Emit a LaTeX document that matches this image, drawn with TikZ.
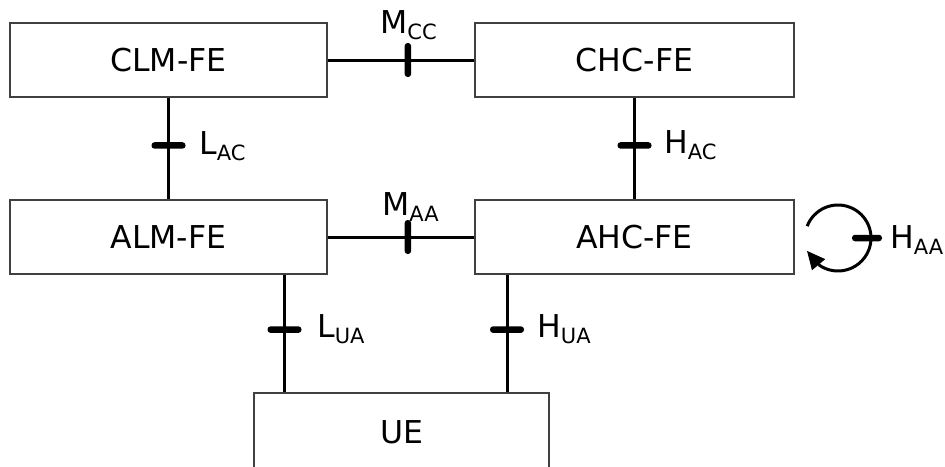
\documentclass[tikz,border=0pt]{standalone}
\usepackage{fontspec}
\setmainfont{DejaVu Sans}
\usetikzlibrary{arrows.meta}
\newcommand\lblsub[2]{#1\raisebox{-6pt}{\fontsize{21}{21}\selectfont #2}}
\tikzset{
  fe/.style={draw=black!75, line width=1.2pt, minimum height=74pt, inner sep=0pt, font=\fontsize{31.5}{31.5}\selectfont},
  conn/.style={line width=3pt, black},
  tickmark/.style={fill=black, draw=none, rounded corners=3pt, inner sep=0pt, minimum width=6.5pt, minimum height=34pt},
  lbl/.style={anchor=base west, inner sep=0pt, font=\fontsize{31.5}{31.5}\selectfont}
}
\begin{document}
\begin{tikzpicture}[x=1pt,y=-1pt]
\useasboundingbox (0,0) rectangle (945,466);
% boxes
\node[fe, minimum width=317pt] (clm) at (168.5,60) {CLM-FE};
\node[fe, minimum width=319pt] (chc) at (634.5,60) {CHC-FE};
\node[fe, minimum width=317pt] (alm) at (168.5,237) {ALM-FE};
\node[fe, minimum width=319pt] (ahc) at (634.5,237) {AHC-FE};
\node[fe, minimum width=295pt, minimum height=90pt] (ue) at (401.5,438) {\raisebox{11pt}{UE}};
% x positions of lower connectors
\coordinate (xl) at (284.5,0);
\coordinate (xh) at (507,0);
% connectors with tick marks
\draw[conn] (clm.east) -- node[tickmark, pos=0.547] (tmcc) {} (chc.west);
\draw[conn] (alm.east) -- node[tickmark, pos=0.547] (tmaa) {} (ahc.west);
\draw[conn] (clm.south) -- node[tickmark, rotate=90, pos=0.47] (tlac) {} (alm.north);
\draw[conn] (chc.south) -- node[tickmark, rotate=90, pos=0.47] (thac) {} (ahc.north);
\draw[conn] (alm.south -| xl) -- node[tickmark, rotate=90, pos=0.467] (tlua) {} (ue.north -| xl);
\draw[conn] (ahc.south -| xh) -- node[tickmark, rotate=90, pos=0.467] (thua) {} (ue.north -| xh);
% loop on AHC
\coordinate (loopc) at (838,238);
\draw[line width=3pt] ([shift={(159:33pt)}]loopc) arc[start angle=159, end angle=-126, radius=33pt] coordinate (arcend);
\draw[line width=1pt, -{Triangle[length=18pt,width=17pt]}] (arcend) -- ++(130:18pt) coordinate (arctip);
\node[tickmark, rotate=90, minimum height=30pt] (thaa) at (867,238) {};
% labels
\node[lbl] (lmcc) at (380,33) {\lblsub{M}{CC}};
\node[lbl] (llac) at (199,154) {\lblsub{L}{AC}};
\node[lbl] (lhac) at (664,153) {\lblsub{H}{AC}};
\node[lbl] (lmaa) at (382,215) {\lblsub{M}{AA}};
\node[lbl] (llua) at (317,337) {\lblsub{L}{UA}};
\node[lbl] (lhua) at (537,337) {\lblsub{H}{UA}};
\node[lbl] (lhaa) at (890,248) {\lblsub{H}{AA}};
\end{tikzpicture}
\end{document}
